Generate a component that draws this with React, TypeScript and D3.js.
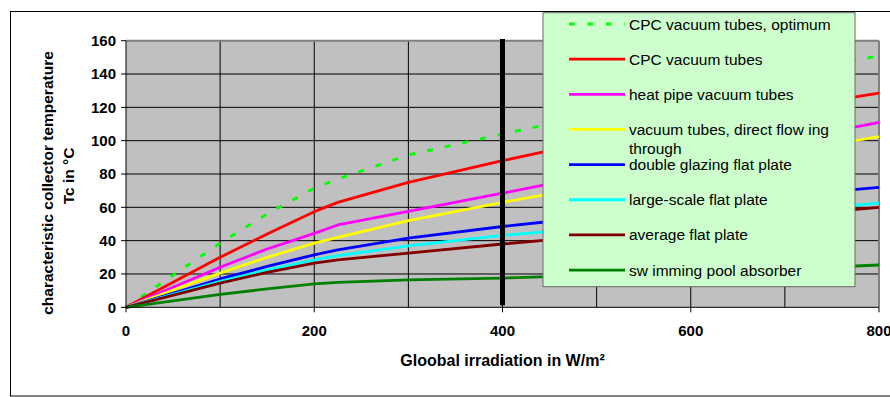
import React from 'react';
import * as d3 from 'd3';

const irradiance = [0, 100, 150, 200, 225, 300, 400, 450, 500, 600, 700, 800];
const cpcOptimum = [0, 38.5, 56, 71.5, 77, 91.4, 104, 110, 116, 127, 139, 151];
const cpcTubes = [0, 30, 44, 57.4, 63, 75, 88, 94, 100, 110, 119.5, 128.5];
const heatPipe = [0, 24, 35, 44.4, 49.4, 57.5, 68.5, 74, 79, 89, 100, 111];
const directFlow = [0, 20.5, 30, 38.5, 42, 52, 63, 68, 73, 83, 93, 102.5];
const doubleGlazing = [0, 17, 24.5, 31.5, 34.5, 41.5, 48.5, 51.5, 55, 61, 67, 72];
const largeScale = [0, 15.5, 22.5, 28.5, 31, 36.8, 43.2, 45.5, 48.5, 53.5, 58, 62.5];
const averageFlat = [0, 14.5, 21, 26.5, 28.5, 32.5, 38, 40.5, 43.5, 49.5, 55, 60];
const swimmingPool = [0, 7.8, 11, 14, 15, 16.5, 17.5, 18.4, 19, 21, 23, 25.4];

const seriesLabels = [
  ['CPC vacuum tubes, optimum'],
  ['CPC vacuum tubes'],
  ['heat pipe vacuum tubes'],
  ['vacuum tubes, direct flow ing', 'through'],
  ['double glazing flat plate'],
  ['large-scale flat plate'],
  ['average flat plate'],
  ['sw imming pool absorber'],
];
const seriesValues = [cpcOptimum, cpcTubes, heatPipe, directFlow, doubleGlazing, largeScale, averageFlat, swimmingPool];
const seriesColors = ['#00ff00', '#ff0000', '#ff00ff', '#ffff00', '#0000ff', '#00ffff', '#800000', '#008000'];
const seriesDashed = [true, false, false, false, false, false, false, false];

const xTicks = [0, 200, 400, 600, 800];
const xGrid = [100, 200, 300, 400, 500, 600, 700];
const yTicks = [0, 20, 40, 60, 80, 100, 120, 140, 160];
const markerX = 400;
const markerRange = [1.2, 161];

const xTitle = 'Gloobal irradiation in W/m²';
const yTitle1 = 'characteristic collector temperature';
const yTitle2 = 'Tc in °C';

const W = 890;
const H = 397;
const L = 126;
const R = 879;
const T = 40.7;
const B = 307.3;
const FONT = '"Liberation Sans", Arial, sans-serif';

export default function App() {
  const x = d3.scaleLinear().domain([0, 800]).range([L, R]);
  const y = d3.scaleLinear().domain([0, 160]).range([B, T]);
  const line = d3
    .line<[number, number]>()
    .x((d) => x(d[0]))
    .y((d) => y(d[1]));

  const legendX = 543;
  const legendY = 12.7;
  const legendW = 312;
  const legendH = 274;
  const entryY0 = 24;
  const entryStep = 35.15;

  return (
    <svg
      width={W}
      height={H}
      style={{ position: 'absolute', left: 0, top: 0, background: '#fff' }}
      fontFamily={FONT}
    >
      <rect x={10.5} y={11.5} width={900} height={384.5} fill="#fff" stroke="#000" strokeWidth={1} />
      <rect x={L} y={T} width={R - L} height={B - T} fill="#c0c0c0" />
      {yTicks.slice(1, -1).map((t) => (
        <line key={'gy' + t} x1={L} x2={R} y1={y(t)} y2={y(t)} stroke="#000" strokeWidth={1} />
      ))}
      {xGrid.map((t) => (
        <line key={'gx' + t} x1={x(t)} x2={x(t)} y1={T} y2={B} stroke="#000" strokeWidth={1} />
      ))}
      <line x1={L} x2={R} y1={T} y2={T} stroke="#808080" strokeWidth={2} />
      <line x1={R} x2={R} y1={T} y2={B} stroke="#808080" strokeWidth={2} />
      {seriesValues.map((vals, i) => (
        <path
          key={'s' + i}
          d={line(irradiance.map((v, j) => [v, vals[j]] as [number, number])) || ''}
          fill="none"
          stroke={seriesColors[i]}
          strokeWidth={2.8}
          strokeDasharray={seriesDashed[i] ? '6 12' : undefined}
          strokeLinejoin="round"
        />
      ))}
      <line
        x1={x(markerX)}
        x2={x(markerX)}
        y1={y(markerRange[0])}
        y2={y(markerRange[1])}
        stroke="#000"
        strokeWidth={5}
      />
      {/* axes */}
      <line x1={L} x2={L} y1={T} y2={B} stroke="#000" strokeWidth={1} />
      <line x1={L} x2={R} y1={B} y2={B} stroke="#000" strokeWidth={1} />
      {yTicks.map((t) => (
        <g key={'yt' + t}>
          <line x1={L - 5} x2={L} y1={y(t)} y2={y(t)} stroke="#000" />
          <text
            x={L - 10}
            y={y(t)}
            dy="0.36em"
            textAnchor="end"
            fontSize={15}
            fontWeight="bold"
            fill="#000"
          >
            {t}
          </text>
        </g>
      ))}
      {xTicks.map((t) => (
        <g key={'xt' + t}>
          <line x1={x(t)} x2={x(t)} y1={B} y2={B + 5} stroke="#000" />
          <text x={x(t)} y={331} dy="0.36em" textAnchor="middle" fontSize={15} fontWeight="bold" fill="#000">
            {t}
          </text>
        </g>
      ))}
      <text x={(L + R) / 2} y={360} dy="0.36em" textAnchor="middle" fontSize={16} fontWeight="bold" fill="#000">
        {xTitle}
      </text>
      <text
        transform={`translate(47,183) rotate(-90)`}
        dy="0.36em"
        textAnchor="middle"
        fontSize={15.5}
        fontWeight="bold"
        fill="#000"
      >
        {yTitle1}
      </text>
      <text
        transform={`translate(68,176) rotate(-90)`}
        dy="0.36em"
        textAnchor="middle"
        fontSize={15.5}
        fontWeight="bold"
        fill="#000"
      >
        {yTitle2}
      </text>
      {/* legend */}
      <rect x={legendX} y={legendY} width={legendW} height={legendH} fill="#ccffcc" stroke="#6a6a6a" strokeWidth={1} />
      {seriesLabels.map((lab, i) => {
        const cy = entryY0 + i * entryStep;
        return (
          <g key={'lg' + i}>
            <line
              x1={569}
              x2={625}
              y1={cy}
              y2={cy}
              stroke={seriesColors[i]}
              strokeWidth={2.8}
              strokeDasharray={seriesDashed[i] ? '5.5 13' : undefined}
            />
            {lab.map((s, k) => (
              <text key={k} x={629} y={cy + k * 19} dy="0.36em" fontSize={15.5} fill="#000">
                {s}
              </text>
            ))}
          </g>
        );
      })}
    </svg>
  );
}
